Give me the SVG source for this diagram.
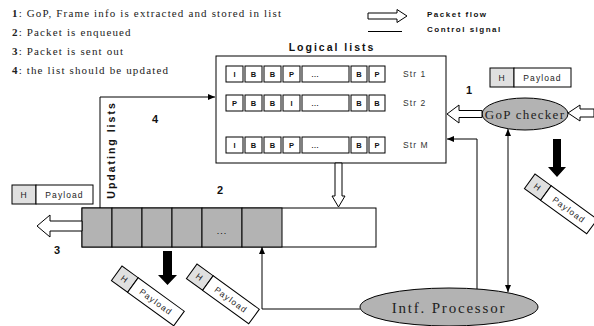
<svg xmlns="http://www.w3.org/2000/svg" width="594" height="326" viewBox="0 0 594 326">
<style>
.leg{font-family:"Liberation Serif",serif;font-size:11px;letter-spacing:1.15px;fill:#222}
.legb{font-weight:bold}
.ls{font-family:"Liberation Sans",Arial,sans-serif;font-weight:bold;font-size:8px;letter-spacing:1.5px;fill:#111}
.title{font-family:"Liberation Sans",Arial,sans-serif;font-weight:bold;font-size:10.5px;letter-spacing:2px;fill:#111}
.cell{fill:#fff;stroke:#000;stroke-width:1}
.ct{font-family:"Liberation Sans",Arial,sans-serif;font-weight:bold;font-size:7.5px;fill:#111;text-anchor:middle}
.dots{font-family:"Liberation Sans",Arial,sans-serif;font-size:9px;fill:#000;text-anchor:middle}
.str{font-family:"Liberation Sans",Arial,sans-serif;font-size:8.5px;letter-spacing:1.1px;fill:#333}
.num{font-family:"Liberation Sans",Arial,sans-serif;font-weight:bold;font-size:11px;fill:#111;text-anchor:middle}
.hol{fill:#fff;stroke:#000;stroke-width:1}
.ctl{fill:none;stroke:#000;stroke-width:1}
.gray{fill:#b3b3b3;stroke:#000;stroke-width:1}
.hc{fill:#e0e0e0;stroke:#000;stroke-width:1}
.pc{fill:#fff;stroke:#000;stroke-width:1}
.pt{font-family:"Liberation Sans",Arial,sans-serif;font-size:8.5px;letter-spacing:1.1px;fill:#222;text-anchor:middle}
.ell{fill:#b3b3b3;stroke:#000;stroke-width:1}
.et{font-family:"Liberation Serif",serif;fill:#222;text-anchor:middle}
.blk{fill:#000}
</style>
<defs>
<marker id="ah" markerUnits="userSpaceOnUse" markerWidth="8" markerHeight="6" refX="7" refY="3" orient="auto-start-reverse">
<path d="M0,0 L7,3 L0,6 z" fill="#000"/>
</marker>
<g id="pkt">
<rect class="hc" x="0" y="0" width="20" height="18"/>
<rect class="pc" x="20" y="0" width="57" height="18"/>
<text class="pt" x="10" y="12" font-size="7.5">H</text>
<text class="pt" x="48.5" y="12">Payload</text>
</g>
<g id="upk">
<rect class="hc" x="0" y="0" width="24" height="19"/>
<rect class="pc" x="24" y="0" width="57" height="19"/>
<text class="pt" x="12" y="12.5">H</text>
<text class="pt" x="52.5" y="12.5">Payload</text>
</g>
</defs>
<rect width="594" height="326" fill="#fff"/>

<g id="legend">
<text class="leg" x="12" y="17"><tspan class="legb">1</tspan>: GoP, Frame info is extracted and stored in list</text>
<text class="leg" x="12" y="36"><tspan class="legb">2</tspan>: Packet is enqueued</text>
<text class="leg" x="12" y="55"><tspan class="legb">3</tspan>: Packet is sent out</text>
<text class="leg" x="12" y="74"><tspan class="legb">4</tspan>: the list should be updated</text>
<polygon class="hol" points="368,13 397,13 397,9.5 407,16 397,22.5 397,19 368,19"/>
<line class="ctl" x1="368" y1="31.5" x2="402" y2="31.5"/>
<text class="ls" x="427" y="17">Packet flow</text>
<text class="ls" x="427" y="32">Control signal</text>
</g>

<g id="logical-lists">
<text class="title" x="332" y="51" text-anchor="middle">Logical lists</text>
<rect x="216" y="56" width="230" height="107" fill="#fff" stroke="#000" stroke-width="1"/>
<g id="row1">
<rect class="cell" x="226" y="66" width="17" height="16"/><text class="ct" x="234.5" y="77">I</text>
<rect class="cell" x="245" y="66" width="17" height="16"/><text class="ct" x="253.5" y="77">B</text>
<rect class="cell" x="264" y="66" width="17" height="16"/><text class="ct" x="272.5" y="77">B</text>
<rect class="cell" x="283" y="66" width="17" height="16"/><text class="ct" x="291.5" y="77">P</text>
<rect class="cell" x="302" y="66" width="47" height="16"/><text class="dots" x="315" y="77">...</text>
<rect class="cell" x="351" y="66" width="16" height="16"/><text class="ct" x="359" y="77">B</text>
<rect class="cell" x="369" y="66" width="16" height="16"/><text class="ct" x="377" y="77">P</text>
<text class="str" x="403" y="77">Str 1</text>
</g>
<g id="row2">
<rect class="cell" x="226" y="95" width="17" height="16"/><text class="ct" x="234.5" y="106">P</text>
<rect class="cell" x="245" y="95" width="17" height="16"/><text class="ct" x="253.5" y="106">B</text>
<rect class="cell" x="264" y="95" width="17" height="16"/><text class="ct" x="272.5" y="106">B</text>
<rect class="cell" x="283" y="95" width="17" height="16"/><text class="ct" x="291.5" y="106">I</text>
<rect class="cell" x="302" y="95" width="47" height="16"/><text class="dots" x="315" y="106">...</text>
<rect class="cell" x="351" y="95" width="16" height="16"/><text class="ct" x="359" y="106">B</text>
<rect class="cell" x="369" y="95" width="16" height="16"/><text class="ct" x="377" y="106">B</text>
<text class="str" x="403" y="106">Str 2</text>
</g>
<g id="rowM">
<rect class="cell" x="226" y="137" width="17" height="16"/><text class="ct" x="234.5" y="148">I</text>
<rect class="cell" x="245" y="137" width="17" height="16"/><text class="ct" x="253.5" y="148">B</text>
<rect class="cell" x="264" y="137" width="17" height="16"/><text class="ct" x="272.5" y="148">B</text>
<rect class="cell" x="283" y="137" width="17" height="16"/><text class="ct" x="291.5" y="148">P</text>
<rect class="cell" x="302" y="137" width="47" height="16"/><text class="dots" x="315" y="148">...</text>
<rect class="cell" x="351" y="137" width="16" height="16"/><text class="ct" x="359" y="148">B</text>
<rect class="cell" x="369" y="137" width="16" height="16"/><text class="ct" x="377" y="148">P</text>
<text class="str" x="403" y="148">Str M</text>
</g>
</g>

<g id="queue">
<rect x="82" y="208" width="294" height="39" fill="#fff" stroke="#000" stroke-width="1"/>
<rect class="gray" x="82" y="208" width="30" height="39"/>
<rect class="gray" x="112" y="208" width="30" height="39"/>
<rect class="gray" x="142" y="208" width="30" height="39"/>
<rect class="gray" x="172" y="208" width="30" height="39"/>
<rect class="gray" x="202" y="208" width="40" height="39"/>
<rect class="gray" x="242" y="208" width="40" height="39"/>
<text class="dots" x="222" y="234" font-size="11" letter-spacing="1">...</text>
</g>

<g id="gop-checker">
<ellipse class="ell" cx="525" cy="114" rx="43" ry="16"/>
<text class="et" x="525" y="118.5" font-size="13" letter-spacing="1.3">GoP checker</text>
</g>

<g id="intf-processor">
<ellipse class="ell" cx="449" cy="307" rx="89" ry="19"/>
<text class="et" x="449" y="312.5" font-size="15" letter-spacing="1.8">Intf. Processor</text>
</g>

<g id="packets">
<use href="#upk" x="490" y="68"/>
<use href="#upk" x="12" y="185"/>
<use href="#pkt" transform="translate(535,174) rotate(36)"/>
<use href="#pkt" transform="translate(122,266) rotate(36)"/>
<use href="#pkt" transform="translate(197,264) rotate(36)"/>
</g>

<g id="connectors">
<polygon class="hol" points="594,109 580,109 580,105 568,113 580,121 580,117 594,117"/>
<polygon class="hol" points="482,110.5 459,110.5 459,105 447,114 459,123 459,117.5 482,117.5"/>
<polygon class="hol" points="335,163 342,163 342,196 345,196 338.5,207 332,196 335,196"/>
<polygon class="hol" points="82,221 50,221 50,215 37,226 50,237 50,231 82,231"/>
<polygon class="blk" points="553,139 561,139 561,167 566,167 557,177 548,167 553,167"/>
<polygon class="blk" points="163,251 172,251 172,275 177,275 167.5,285 158,275 163,275"/>
<polyline class="ctl" points="100,208 100,97 215,97" marker-end="url(#ah)"/>
<polyline class="ctl" points="477,289 477,139 447,139" marker-end="url(#ah)"/>
<line class="ctl" x1="508" y1="129" x2="508" y2="292" marker-start="url(#ah)" marker-end="url(#ah)"/>
<polyline class="ctl" points="360,309 262,309 262,247" marker-end="url(#ah)"/>
</g>

<g id="labels">
<text class="title" transform="translate(115,150) rotate(-90)" text-anchor="middle" font-size="10" letter-spacing="1.2">Updating lists</text>
<text class="num" x="469" y="94">1</text>
<text class="num" x="220" y="194">2</text>
<text class="num" x="57" y="254">3</text>
<text class="num" x="155" y="123">4</text>
</g>
</svg>
